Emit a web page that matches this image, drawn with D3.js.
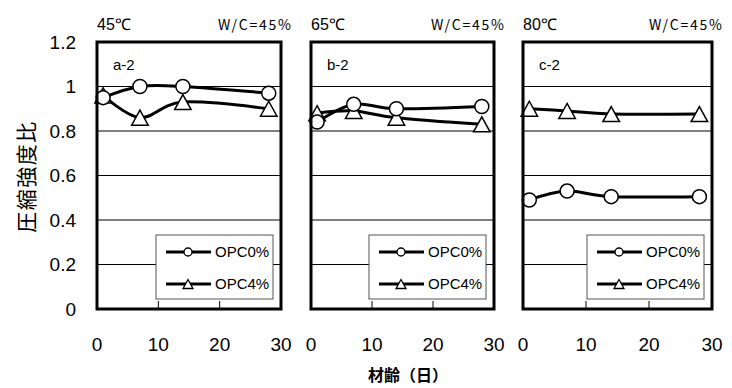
<!DOCTYPE html>
<html>
<head>
<meta charset="utf-8">
<script src="https://cdn.jsdelivr.net/npm/d3@7"></script>
<style>
  body { margin: 0; background: #fff; }
</style>
</head>
<body>
<div id="chart"></div>
<script>
const days = [1, 7, 14, 28];
const panel_labels = ["a-2", "b-2", "c-2"];
const temps = ["45℃", "65℃", "80℃"];
const wc_label = "W/C=45%";
const opc0 = [
  [0.95, 1.0, 1.0, 0.97],
  [0.84, 0.92, 0.90, 0.91],
  [0.49, 0.53, 0.505, 0.505]
];
const opc4 = [
  [0.96, 0.86, 0.93, 0.90],
  [0.88, 0.89, 0.86, 0.83],
  [0.90, 0.89, 0.876, 0.876]
];
const series_names = ["OPC0%", "OPC4%"];
const y_ticks = [0, 0.2, 0.4, 0.6, 0.8, 1, 1.2];
const x_ticks = [0, 10, 20, 30];

const panel_left = [97, 311, 523];
const panel_width = [184, 183, 189];
const plot_top = 42, plot_bottom = 309;
const num_font = "'Liberation Sans', Arial, sans-serif";
const jp_font = "'Noto Sans CJK JP', sans-serif";

let svg = d3.select("#chart").append("svg")
  .attr("width", 732)
  .attr("height", 388)
  .style("background", "#fff");

let y = d3.scaleLinear().domain([0, 1.2]).range([plot_bottom, plot_top]);

// y axis labels
svg.append("g")
  .selectAll("text")
  .data(y_ticks)
  .join("text")
    .attr("x", 76)
    .attr("y", d => y(d))
    .attr("dy", "0.36em")
    .attr("text-anchor", "end")
    .attr("font-family", num_font)
    .attr("font-size", "19px")
    .text(d => d3.format("~g")(d));

svg.append("text")
  .attr("transform", `translate(25, ${(120 + 233) / 2}) rotate(-90)`)
  .attr("text-anchor", "middle")
  .attr("dominant-baseline", "central")
  .attr("font-family", jp_font)
  .attr("font-size", "21px")
  .attr("letter-spacing", "1.5px")
  .text("圧縮強度比");

svg.append("text")
  .attr("x", 408)
  .attr("y", 381)
  .attr("text-anchor", "middle")
  .attr("font-family", jp_font)
  .attr("font-weight", "bold")
  .attr("font-size", "16px")
  .text("材齢（日）");

let line = d3.line().curve(d3.curveCardinal.tension(0));

function triangle(s) {
  return `M0,${-s} L${s * 1.1},${s} L${-s * 1.1},${s} Z`;
}

panel_labels.forEach((label, i) => {
  let x0 = panel_left[i], w = panel_width[i];
  let x = d3.scaleLinear().domain([0, 30]).range([x0, x0 + w]);
  const g = svg.append("g");

  // grid lines
  g.selectAll("line.grid")
    .data(y_ticks.filter(d => d > 0 && d < 1.2))
    .join("line")
      .attr("class", "grid")
      .attr("x1", x0).attr("x2", x0 + w)
      .attr("y1", d => y(d)).attr("y2", d => y(d))
      .attr("stroke", "#000")
      .attr("stroke-width", 1);

  // inner ticks
  g.selectAll("line.tick")
    .data(x_ticks)
    .join("line")
      .attr("class", "tick")
      .attr("x1", d => x(d)).attr("x2", d => x(d))
      .attr("y1", plot_bottom).attr("y2", plot_bottom - 8)
      .attr("stroke", "#000");

  // x tick labels
  g.selectAll("text.xt")
    .data(x_ticks)
    .join("text")
      .attr("class", "xt")
      .attr("x", d => x(d))
      .attr("y", 351)
      .attr("text-anchor", "middle")
      .attr("font-family", num_font)
      .attr("font-size", "19px")
      .text(d => d);

  g.append("text")
    .attr("x", x0)
    .attr("y", 30)
    .attr("font-family", num_font)
    .attr("font-size", "16px")
    .text(temps[i]);

  g.append("text")
    .attr("x", x0 + w - 63)
    .attr("y", 30)
    .attr("textLength", 73)
    .attr("font-family", jp_font)
    .attr("font-size", "14px")
    .text(wc_label);

  g.append("text")
    .attr("x", x0 + 16)
    .attr("y", 70)
    .attr("font-family", num_font)
    .attr("font-size", "15px")
    .text(label);

  let sets = [opc0[i], opc4[i]];
  sets.forEach(vals => {
    g.append("path")
      .datum(vals.map((v, k) => [x(days[k]), y(v)]))
      .attr("d", line)
      .attr("fill", "none")
      .attr("stroke", "#000")
      .attr("stroke-width", 3);
  });

  g.selectAll("path.tri")
    .data(opc4[i])
    .join("path")
      .attr("class", "tri")
      .attr("transform", (d, k) => `translate(${x(days[k])}, ${y(d)})`)
      .attr("d", triangle(7.5))
      .attr("fill", "#fff")
      .attr("stroke", "#000")
      .attr("stroke-width", 1.5);

  g.selectAll("circle.pt")
    .data(opc0[i])
    .join("circle")
      .attr("class", "pt")
      .attr("cx", (d, k) => x(days[k]))
      .attr("cy", d => y(d))
      .attr("r", 7)
      .attr("fill", "#fff")
      .attr("stroke", "#000")
      .attr("stroke-width", 1.5);

  // legend
  let lx = x0 + w - 125, ly = 235;
  const lg = g.append("g").attr("transform", `translate(${lx}, ${ly})`);
  lg.append("rect")
    .attr("x", 0).attr("y", 0)
    .attr("width", 117).attr("height", 64)
    .attr("fill", "#fff")
    .attr("stroke", "#555")
    .attr("stroke-width", 1);

  series_names.forEach((name, k) => {
    let cy = 17 + k * 32;
    lg.append("line")
      .attr("x1", 10).attr("x2", 55)
      .attr("y1", cy).attr("y2", cy)
      .attr("stroke", "#000")
      .attr("stroke-width", 3);
    if (k == 0)
      lg.append("circle")
        .attr("cx", 32).attr("cy", cy).attr("r", 4)
        .attr("fill", "#fff").attr("stroke", "#000").attr("stroke-width", 1.3);
    else
      lg.append("path")
        .attr("transform", `translate(32, ${cy})`)
        .attr("d", triangle(4.5))
        .attr("fill", "#fff").attr("stroke", "#000").attr("stroke-width", 1.3);
    lg.append("text")
      .attr("x", 59)
      .attr("y", cy)
      .attr("dy", "0.36em")
      .attr("font-family", num_font)
      .attr("font-size", "15px")
      .text(name);
  });

  // frame
  g.append("rect")
    .attr("x", x0).attr("y", plot_top)
    .attr("width", w).attr("height", plot_bottom - plot_top)
    .attr("fill", "none")
    .attr("stroke", "#000")
    .attr("stroke-width", 3);
});
</script>
</body>
</html>
